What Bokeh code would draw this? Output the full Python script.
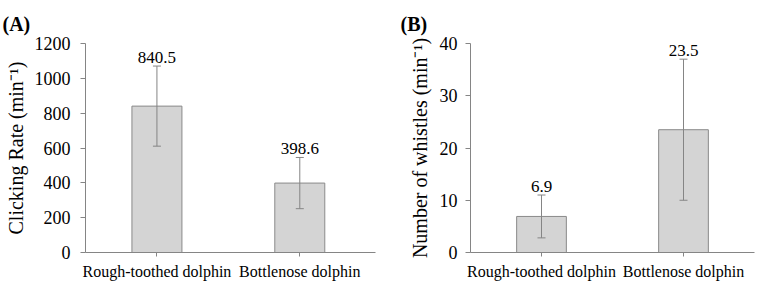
from bokeh.plotting import figure
from bokeh.layouts import row
from bokeh.models import (ColumnDataSource, Range1d, FixedTicker, Whisker,
                          TeeHead, LabelSet)
from bokeh.core.properties import value
from bokeh.embed import file_html
from bokeh.resources import INLINE

# Data
species = ["Rough-toothed dolphin", "Bottlenose dolphin"]
click_mean = [840.5, 398.6]
click_sd = [230.0, 147.0]
whistle_mean = [6.9, 23.5]
whistle_sd = [4.1, 13.5]
click_ticks = [0, 200, 400, 600, 800, 1000, 1200]
whistle_ticks = [0, 10, 20, 30, 40]

SERIF = "Times New Roman"
AXIS_GREY = "#858585"
BAR_FILL = "#d4d4d4"
BAR_LINE = "#8a8a8a"


def panel(means, sds, yticks, ylabel, tag, width, left, right, x_end,
          tag_offset, ytick_standoff, ylabel_standoff):
    xs = list(range(len(species)))
    src = ColumnDataSource(dict(
        x=xs,
        mean=means,
        upper=[m + s for m, s in zip(means, sds)],
        lower=[m - s for m, s in zip(means, sds)],
        text=[f"{m:.1f}" for m in means],
    ))
    p = figure(width=width, height=282, output_backend="svg",
               toolbar_location=None, x_range=Range1d(-0.5, x_end),
               y_range=Range1d(yticks[0], yticks[-1]),
               min_border_left=left, min_border_right=right,
               min_border_top=43, min_border_bottom=30)
    p.outline_line_color = None
    p.grid.visible = False
    p.background_fill_color = "white"

    # panel tag, e.g. "(A)", in the top-left corner
    p.title.text = tag
    p.title.align = "left"
    p.title.offset = tag_offset
    p.title.text_font = SERIF
    p.title.text_font_size = "20px"
    p.title.text_font_style = "bold"
    p.title.text_color = "black"
    p.title.standoff = 18

    p.vbar(x="x", top="mean", width=0.35, source=src,
           fill_color=BAR_FILL, line_color=BAR_LINE, line_width=1)

    p.add_layout(Whisker(base="x", upper="upper", lower="lower", source=src,
                         level="overlay",
                         line_color=AXIS_GREY, line_width=1,
                         upper_head=TeeHead(size=8, line_color=AXIS_GREY, line_width=1),
                         lower_head=TeeHead(size=8, line_color=AXIS_GREY, line_width=1)))

    p.add_layout(LabelSet(x="x", y="upper", text="text", source=src,
                          text_align="center", text_baseline="bottom",
                          y_offset=3, text_font=value(SERIF),
                          text_font_size="17px", text_color="black"))

    xa = p.xaxis[0]
    xa.ticker = FixedTicker(ticks=xs)
    xa.major_label_overrides = {i: s for i, s in zip(xs, species)}
    xa.minor_tick_line_color = None
    xa.major_tick_in = 0
    xa.major_tick_out = 4
    xa.major_label_standoff = 6
    xa.major_label_text_font = SERIF
    xa.major_label_text_font_size = "16px"
    xa.major_label_text_color = "black"
    xa.axis_line_color = AXIS_GREY
    xa.major_tick_line_color = AXIS_GREY

    ya = p.yaxis[0]
    ya.ticker = FixedTicker(ticks=yticks)
    ya.minor_tick_line_color = None
    ya.major_tick_in = 0
    ya.major_tick_out = 5
    ya.major_label_standoff = ytick_standoff
    ya.major_label_text_font = SERIF
    ya.major_label_text_font_size = "18px"
    ya.major_label_text_color = "black"
    ya.axis_line_color = AXIS_GREY
    ya.major_tick_line_color = AXIS_GREY
    ya.axis_label = ylabel
    ya.axis_label_text_font = SERIF
    ya.axis_label_text_font_style = "normal"
    ya.axis_label_text_font_size = "20px"
    ya.axis_label_text_color = "black"
    ya.axis_label_standoff = ylabel_standoff
    return p


pa = panel(click_mean, click_sd, click_ticks, "Clicking Rate (min⁻¹)", "(A)",
           379, 85, 4, 1.53, -83, 10, 5)
pb = panel(whistle_mean, whistle_sd, whistle_ticks, "Number of whistles (min⁻¹)",
           "(B)", 380, 91, 5, 1.5, -70, 8, 6)

layout = row(pa, pb)
open("out.html", "w").write(file_html(layout, INLINE))
